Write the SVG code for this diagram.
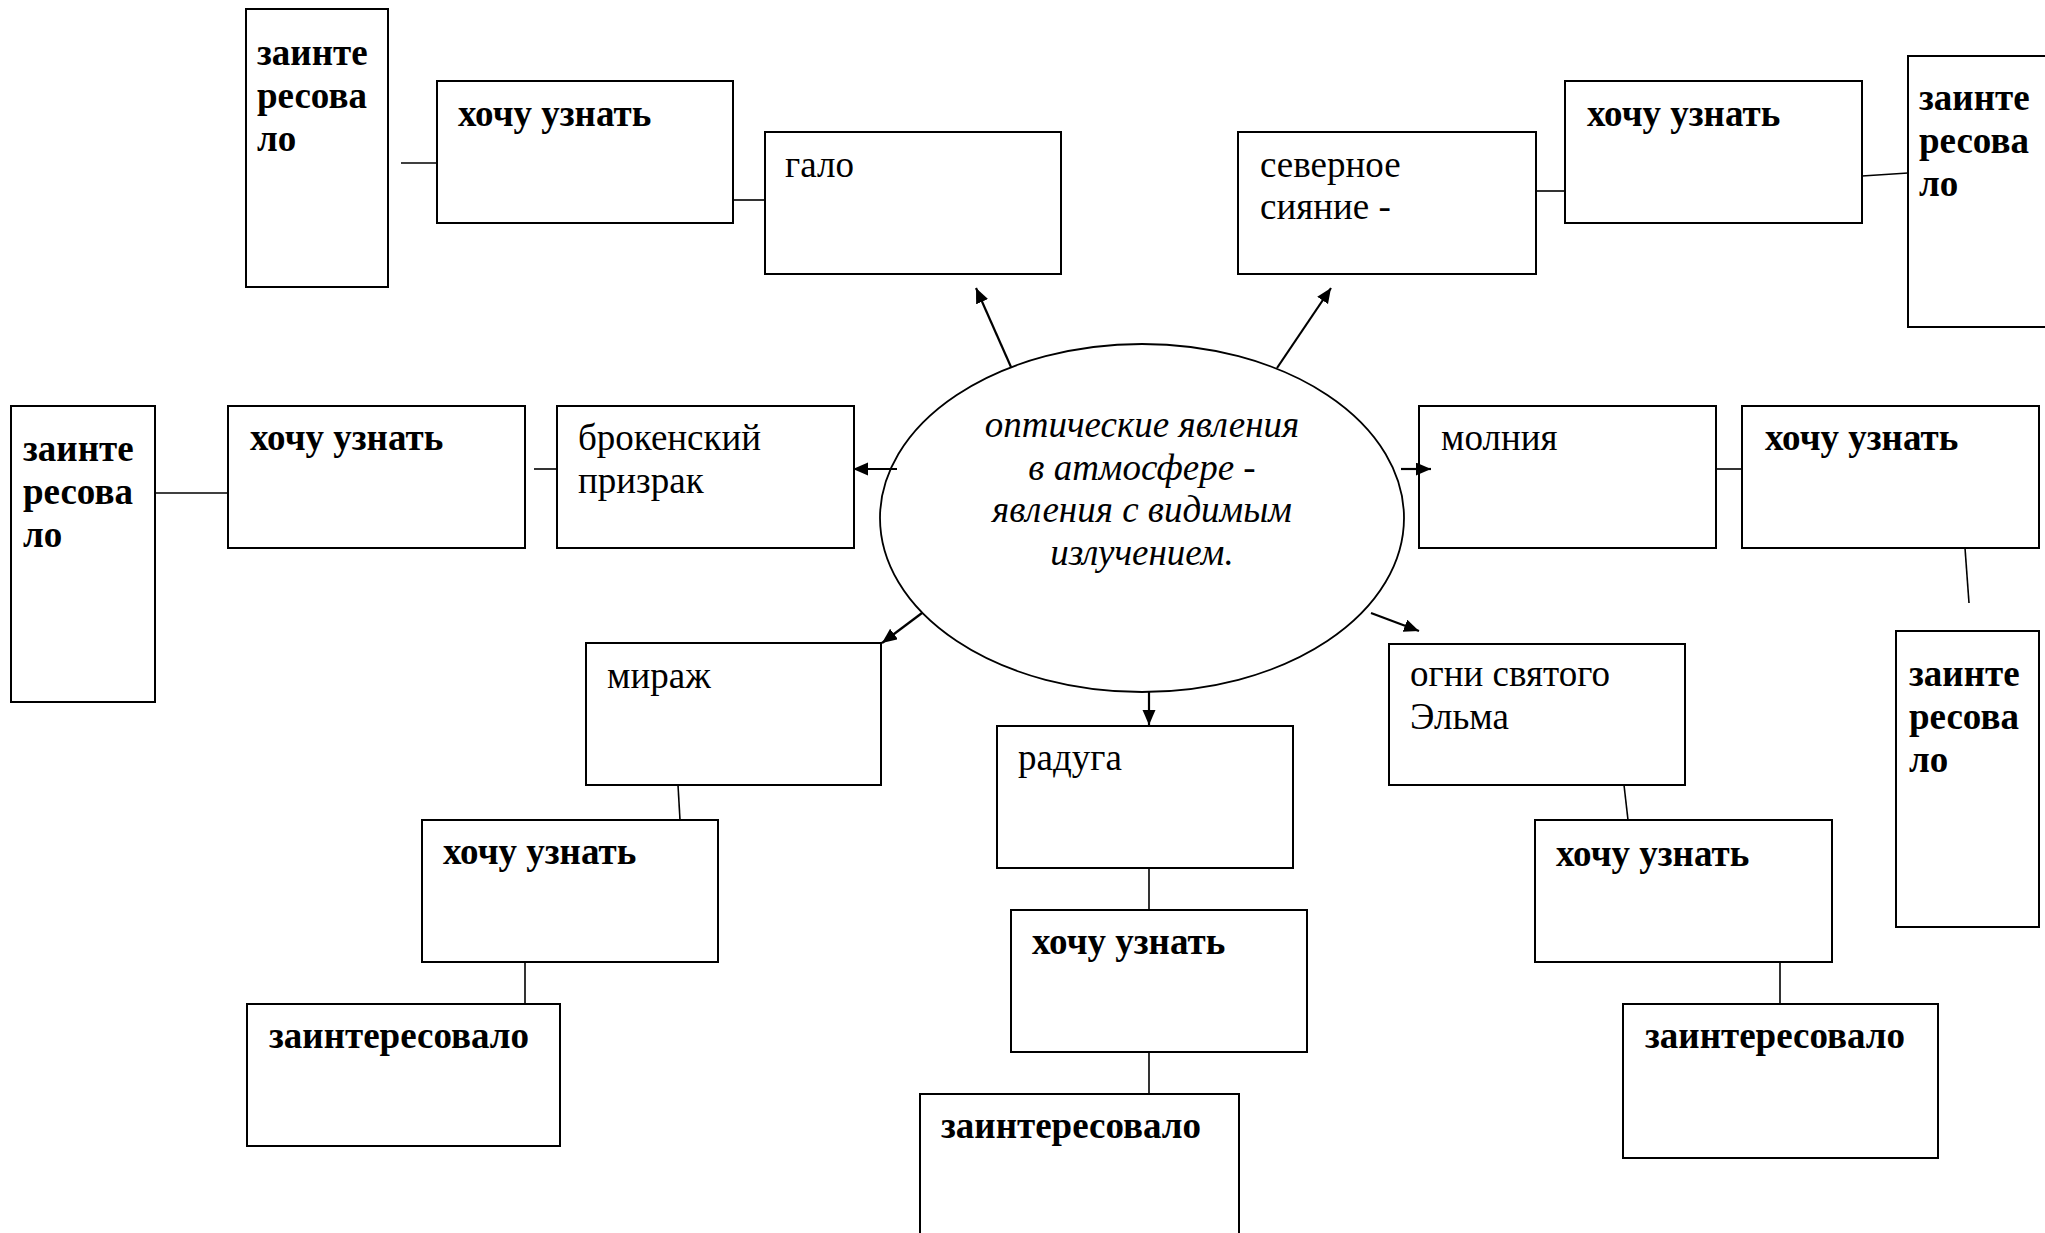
<svg xmlns="http://www.w3.org/2000/svg" width="2045" height="1233" viewBox="0 0 2045 1233">
<style>
.box{fill:#fff;stroke:#000;stroke-width:2}
.t{font-family:"Liberation Serif","Times New Roman",serif;font-size:37px;fill:#000}
.b{font-weight:bold}
.i{font-style:italic}
.c{stroke:#000;stroke-width:1.6;fill:none}
.a{stroke:#000;stroke-width:2.2;fill:none;marker-end:url(#ah)}
</style>
<defs>
<marker id="ah" markerUnits="userSpaceOnUse" markerWidth="16" markerHeight="14" refX="15" refY="6.5" orient="auto">
<path d="M0,0 L15,6.5 L0,13 z" fill="#000"/>
</marker>
</defs>
<rect width="2045" height="1233" fill="#fff"/>
<g id="center">
<ellipse cx="1142" cy="518" rx="262" ry="174" fill="#fff" stroke="#000" stroke-width="1.8"/>
<text class="t i" text-anchor="middle"><tspan x="1142" y="437">оптические явления</tspan><tspan x="1142" y="480">в атмосфере -</tspan><tspan x="1142" y="522">явления с видимым</tspan><tspan x="1142" y="565">излучением.</tspan></text>
</g>
<g id="galo">
<rect class="box" x="765" y="132" width="296" height="142"/>
<text class="t" x="785" y="177">гало</text>
</g>
<g id="galo-want">
<rect class="box" x="437" y="81" width="296" height="142"/>
<text class="t b" x="458" y="126">хочу узнать</text>
</g>
<g id="galo-interest">
<rect class="box" x="246" y="9" width="142" height="278"/>
<text class="t b"><tspan x="257" y="65">заинте</tspan><tspan x="257" y="108">ресова</tspan><tspan x="257" y="151">ло</tspan></text>
</g>
<g id="aurora">
<rect class="box" x="1238" y="132" width="298" height="142"/>
<text class="t"><tspan x="1260" y="177">северное</tspan><tspan x="1260" y="219">сияние -</tspan></text>
</g>
<g id="aurora-want">
<rect class="box" x="1565" y="81" width="297" height="142"/>
<text class="t b" x="1587" y="126">хочу узнать</text>
</g>
<g id="aurora-interest">
<rect class="box" x="1908" y="56" width="160" height="271"/>
<text class="t b"><tspan x="1919" y="110">заинте</tspan><tspan x="1919" y="153">ресова</tspan><tspan x="1919" y="196">ло</tspan></text>
</g>
<g id="brocken">
<rect class="box" x="557" y="406" width="297" height="142"/>
<text class="t"><tspan x="578" y="450">брокенский</tspan><tspan x="578" y="493">призрак</tspan></text>
</g>
<g id="brocken-want">
<rect class="box" x="228" y="406" width="297" height="142"/>
<text class="t b" x="250" y="450">хочу узнать</text>
</g>
<g id="brocken-interest">
<rect class="box" x="11" y="406" width="144" height="296"/>
<text class="t b"><tspan x="23" y="461">заинте</tspan><tspan x="23" y="504">ресова</tspan><tspan x="23" y="547">ло</tspan></text>
</g>
<g id="lightning">
<rect class="box" x="1419" y="406" width="297" height="142"/>
<text class="t" x="1441" y="450">молния</text>
</g>
<g id="lightning-want">
<rect class="box" x="1742" y="406" width="297" height="142"/>
<text class="t b" x="1765" y="450">хочу узнать</text>
</g>
<g id="lightning-interest">
<rect class="box" x="1896" y="631" width="143" height="296"/>
<text class="t b"><tspan x="1909" y="686">заинте</tspan><tspan x="1909" y="729">ресова</tspan><tspan x="1909" y="772">ло</tspan></text>
</g>
<g id="mirage">
<rect class="box" x="586" y="643" width="295" height="142"/>
<text class="t" x="607" y="688">мираж</text>
</g>
<g id="mirage-want">
<rect class="box" x="422" y="820" width="296" height="142"/>
<text class="t b" x="443" y="864">хочу узнать</text>
</g>
<g id="mirage-interest">
<rect class="box" x="247" y="1004" width="313" height="142"/>
<text class="t b" x="269" y="1048">заинтересовало</text>
</g>
<g id="rainbow">
<rect class="box" x="997" y="726" width="296" height="142"/>
<text class="t" x="1018" y="770">радуга</text>
</g>
<g id="rainbow-want">
<rect class="box" x="1011" y="910" width="296" height="142"/>
<text class="t b" x="1032" y="954">хочу узнать</text>
</g>
<g id="rainbow-interest">
<rect class="box" x="920" y="1094" width="319" height="160"/>
<text class="t b" x="941" y="1138">заинтересовало</text>
</g>
<g id="elmo">
<rect class="box" x="1389" y="644" width="296" height="141"/>
<text class="t"><tspan x="1410" y="686">огни святого</tspan><tspan x="1410" y="729">Эльма</tspan></text>
</g>
<g id="elmo-want">
<rect class="box" x="1535" y="820" width="297" height="142"/>
<text class="t b" x="1556" y="866">хочу узнать</text>
</g>
<g id="elmo-interest">
<rect class="box" x="1623" y="1004" width="315" height="154"/>
<text class="t b" x="1645" y="1048">заинтересовало</text>
</g>
<g id="connectors">
<line class="c" x1="401" y1="163" x2="437" y2="163"/>
<line class="c" x1="733" y1="200" x2="765" y2="200"/>
<line class="c" x1="1536" y1="191" x2="1565" y2="191"/>
<line class="c" x1="1862" y1="176" x2="1908" y2="173"/>
<line class="c" x1="155" y1="493" x2="228" y2="493"/>
<line class="c" x1="534" y1="469" x2="557" y2="469"/>
<line class="c" x1="1716" y1="469" x2="1742" y2="469"/>
<line class="c" x1="1965" y1="548" x2="1969" y2="603"/>
<line class="c" x1="678" y1="785" x2="680" y2="820"/>
<line class="c" x1="525" y1="962" x2="525" y2="1004"/>
<line class="c" x1="1149" y1="868" x2="1149" y2="910"/>
<line class="c" x1="1149" y1="1052" x2="1149" y2="1094"/>
<line class="c" x1="1624" y1="785" x2="1628" y2="820"/>
<line class="c" x1="1780" y1="962" x2="1780" y2="1004"/>
<line class="a" x1="1011" y1="367" x2="976" y2="288"/>
<line class="a" x1="1277" y1="368" x2="1331" y2="288"/>
<line class="a" x1="897" y1="469" x2="853" y2="469"/>
<line class="a" x1="1401" y1="469" x2="1431" y2="469"/>
<line class="a" x1="922" y1="613" x2="882" y2="643"/>
<line class="a" x1="1371" y1="613" x2="1419" y2="631"/>
<line class="a" x1="1149" y1="692" x2="1149" y2="725"/>
</g>
</svg>
